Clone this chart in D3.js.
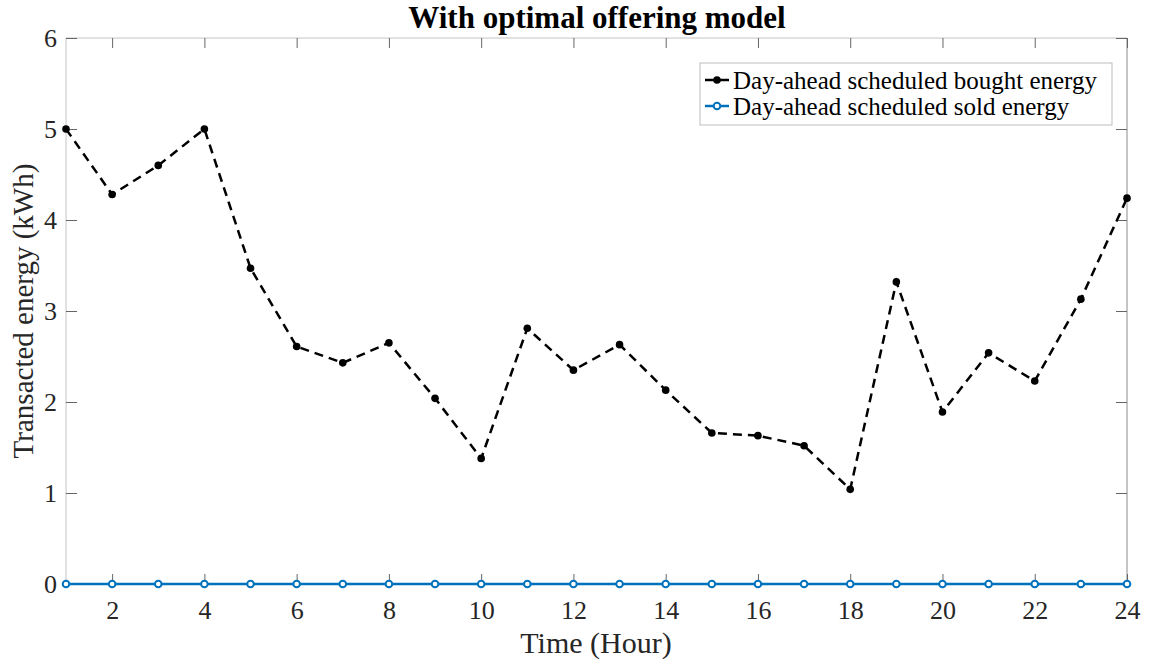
<!DOCTYPE html>
<html>
<head>
<meta charset="utf-8">
<script src="https://cdn.jsdelivr.net/npm/d3@7"></script>
<style>
  html,body{margin:0;padding:0;background:#fff;}
  svg{display:block;font-family:"Liberation Serif","Times New Roman",serif;}
</style>
</head>
<body>
<svg id="chart" width="1152" height="664"></svg>
<script>
// data
var hours=[1,2,3,4,5,6,7,8,9,10,11,12,13,14,15,16,17,18,19,20,21,22,23,24];
var bought=[5.0,4.28,4.60,5.0,3.47,2.61,2.43,2.65,2.04,1.38,2.81,2.35,2.63,2.13,1.66,1.63,1.52,1.04,3.32,1.89,2.54,2.23,3.13,4.24];
var sold=[0,0,0,0,0,0,0,0,0,0,0,0,0,0,0,0,0,0,0,0,0,0,0,0];
var xTicks=[2,4,6,8,10,12,14,16,18,20,22,24];
var yTicks=[0,1,2,3,4,5,6];
var legendLabels=["Day-ahead scheduled bought energy","Day-ahead scheduled sold energy"];

var svg=d3.select("#chart"),
  margin={top:38,right:25,bottom:80,left:66},
  width=1127-margin.left,
  height=584-margin.top;

var g=svg.append("g").attr("transform","translate("+margin.left+","+margin.top+")");

var x=d3.scaleLinear().domain([1,24]).range([0,width]),
  y=d3.scaleLinear().domain([0,6]).range([height,0]);

// box
g.append("line").attr("x1",0).attr("x2",width).attr("y1",0).attr("y2",0).attr("stroke","#c4c4c4");
g.append("line").attr("x1",0).attr("x2",0).attr("y1",0).attr("y2",height).attr("stroke","#c4c4c4");
g.append("line").attr("x1",width).attr("x2",width).attr("y1",0).attr("y2",height).attr("stroke","#8c8c8c");
g.append("line").attr("x1",0).attr("x2",width).attr("y1",height).attr("y2",height).attr("stroke","#8c8c8c");

// axes, ticks pointing inward
var xb=g.append("g").attr("transform","translate(0,"+height+")")
  .call(d3.axisBottom(x).tickValues(xTicks).tickSizeInner(-10).tickSizeOuter(0).tickPadding(17));
var xt=g.append("g")
  .call(d3.axisTop(x).tickValues(xTicks).tickSizeInner(-10).tickSizeOuter(0).tickFormat(""));
var yl=g.append("g")
  .call(d3.axisLeft(y).tickValues(yTicks).tickSizeInner(-11).tickSizeOuter(0).tickPadding(9).tickFormat(d3.format("d")));
var yr=g.append("g").attr("transform","translate("+width+",0)")
  .call(d3.axisRight(y).tickValues(yTicks).tickSizeInner(-11).tickSizeOuter(0).tickFormat(""));

[xb,xt,yl,yr].forEach(function(a){
  a.select(".domain").remove();
  a.selectAll("line").attr("stroke","#666");
  a.selectAll("text").attr("fill","#262626").style("font-size","26px")
   .style("font-family","'Liberation Serif','Times New Roman',serif");
});
xb.selectAll("text").attr("dy","0.71em");

// axis labels
svg.append("text").attr("x",596).attr("y",653).attr("text-anchor","middle")
  .attr("fill","#262626").style("font-size","30px").text("Time (Hour)");
svg.append("text").attr("transform","translate(33,311) rotate(-90)").attr("text-anchor","middle")
  .attr("fill","#262626").style("font-size","29px").text("Transacted energy (kWh)");
svg.append("text").attr("x",597).attr("y",28).attr("text-anchor","middle")
  .attr("fill","#000").style("font-size","31px").style("font-weight","bold").text("With optimal offering model");

// lines
var lineB=d3.line().x(function(d,i){return x(hours[i]);}).y(function(d){return y(d);});

g.append("path").datum(sold).attr("d",lineB).attr("fill","none")
  .attr("stroke","#0072BD").attr("stroke-width",2.5);
g.selectAll(".soldpt").data(sold).enter().append("circle")
  .attr("cx",function(d,i){return x(hours[i]);}).attr("cy",function(d){return y(d);})
  .attr("r",3.3).attr("fill","#fff").attr("stroke","#0072BD").attr("stroke-width",2);

g.append("path").datum(bought).attr("d",lineB).attr("fill","none")
  .attr("stroke","#000").attr("stroke-width",2.5).attr("stroke-dasharray","9,6");
g.selectAll(".boughtpt").data(bought).enter().append("circle")
  .attr("cx",function(d,i){return x(hours[i]);}).attr("cy",function(d){return y(d);})
  .attr("r",3.8).attr("fill","#000");

// legend
var lg=svg.append("g");
lg.append("rect").attr("x",700).attr("y",63).attr("width",412).attr("height",62)
  .attr("fill","#fff").attr("stroke","#bdbdbd").attr("stroke-width",1);
var rows=[{y:80,c:"#000",filled:true},{y:106,c:"#0072BD",filled:false}];
rows.forEach(function(r,i){
  lg.append("line").attr("x1",705).attr("x2",729).attr("y1",r.y).attr("y2",r.y)
    .attr("stroke",r.c).attr("stroke-width",2.5);
  lg.append("circle").attr("cx",717).attr("cy",r.y).attr("r",r.filled?3.8:3.3)
    .attr("fill",r.filled?"#000":"#fff").attr("stroke",r.c).attr("stroke-width",r.filled?0:2);
  lg.append("text").attr("x",733).attr("y",r.y).attr("dy","0.35em")
    .attr("fill","#000").style("font-size","25px").text(legendLabels[i]);
});
</script>
</body>
</html>
